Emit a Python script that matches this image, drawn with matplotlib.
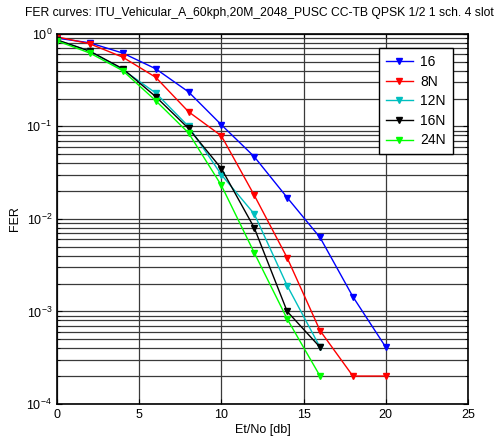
import matplotlib
matplotlib.use('Agg')
import matplotlib.pyplot as plt
from matplotlib.ticker import LogLocator, NullFormatter

# Et/No points [db]
ebno = [0, 2, 4, 6, 8, 10, 12, 14, 16, 18, 20]
ebno_short = [0, 2, 4, 6, 8, 10, 12, 14, 16]

fer_16 = [0.90, 0.80, 0.62, 0.42, 0.236, 0.104, 0.047, 0.017, 0.0063, 0.00144, 0.00041]
fer_8n = [0.93, 0.78, 0.56, 0.34, 0.144, 0.079, 0.018, 0.0038, 0.00062, 0.0002, 0.0002]
fer_12n = [0.86, 0.65, 0.41, 0.23, 0.100, 0.030, 0.0113, 0.0019, 0.00041]
fer_16n = [0.86, 0.65, 0.42, 0.21, 0.095, 0.035, 0.008, 0.0010, 0.00041]
fer_24n = [0.84, 0.62, 0.40, 0.19, 0.085, 0.023, 0.0043, 0.00083, 0.0002]

labels = ['16', '8N', '12N', '16N', '24N']
colors = ['b', 'r', 'c', 'k', 'lime']

plt.rcParams['font.family'] = ['Liberation Sans', 'DejaVu Sans']

fig = plt.figure(figsize=(5, 4.4), dpi=100)
ax = fig.add_axes([0.114, 0.082, 0.822, 0.841])

series = [(ebno, fer_16), (ebno, fer_8n), (ebno_short, fer_12n),
          (ebno_short, fer_16n), (ebno_short, fer_24n)]
for (x, y), lab, col in zip(series, labels, colors):
    ax.semilogy(x, y, color=col, marker='v', markersize=5, linewidth=1, label=lab)

ax.set_xlim(0, 25)
ax.set_ylim(1e-4, 1)
ax.set_xticks([0, 5, 10, 15, 20, 25])
ax.yaxis.set_major_locator(LogLocator(base=10, numticks=10))
ax.yaxis.set_minor_locator(LogLocator(base=10, subs=range(2, 10), numticks=20))
ax.yaxis.set_minor_formatter(NullFormatter())

# dense MATLAB style grid
ax.grid(True, which='major', color='#3a3a3a', linewidth=0.9)
ax.grid(True, which='minor', axis='y', color='#3a3a3a', linewidth=0.9)
ax.set_axisbelow(True)

ax.tick_params(which='both', direction='in', top=True, right=True, labelsize=9)
for s in ax.spines.values():
    s.set_linewidth(1.2)

# title placed on the figure so it stays inside the 500 px width
fig.text(0.519, 0.957, 'FER curves: ITU_Vehicular_A_60kph,20M_2048_PUSC CC-TB QPSK 1/2 1 sch. 4 slot',
         fontsize=8.7, ha='center', va='bottom')
ax.set_xlabel('Et/No [db]', fontsize=9, labelpad=2)
ax.set_ylabel('FER', fontsize=9, labelpad=4)

leg = ax.legend(loc='upper right', bbox_to_anchor=(0.98, 0.98), fontsize=10,
                fancybox=False, framealpha=1, edgecolor='k', handlelength=2.0,
                handletextpad=0.5, borderpad=0.5, labelspacing=0.4)
leg.get_frame().set_linewidth(1)

fig.savefig('out.png', dpi=100)
